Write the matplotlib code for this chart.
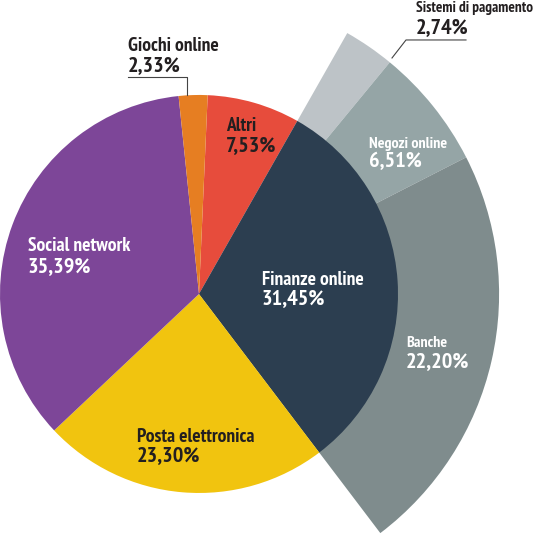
import matplotlib
matplotlib.use("Agg")
import matplotlib.pyplot as plt
from matplotlib import font_manager

# main pie, clockwise from the top
labels = ["Altri", "Finanze online", "Posta elettronica", "Social network", "Giochi online"]
values = [7.53, 31.45, 23.30, 35.39, 2.33]
colors = ["#e74c3c", "#2c3e50", "#f1c40f", "#7d4698", "#e67e22"]

# breakdown of "Finanze online"
sub_labels = ["Sistemi di pagamento", "Negozi online", "Banche"]
sub_values = [2.74, 6.51, 22.20]
sub_colors = ["#bdc3c7", "#95a5a6", "#7f8c8d"]

names = {f.name for f in font_manager.fontManager.ttflist}
font = "DejaVu Sans"
for cand in ["PT Sans Narrow", "Open Sans Condensed", "Roboto Condensed"]:
    if cand in names:
        font = cand
        break

def fmt(v):
    return ("%.2f%%" % v).replace(".", ",")

fig = plt.figure(figsize=(5.38, 5.38), dpi=100)
ax = fig.add_axes([0, 0, 1, 1])

start = 87.5
total = sum(values)
# outer ring starts where "Finanze online" starts
fin_start = start - 360 * values[0] / total
ax.pie(sub_values + [total - sum(sub_values)], radius=1.508, startangle=fin_start,
       counterclock=False, colors=sub_colors + ["none"],
       wedgeprops=dict(linewidth=0))
ax.pie(values, radius=1.0, startangle=start, counterclock=False, colors=colors,
       wedgeprops=dict(linewidth=0))

ax.set_xlim(-1.0, 1.7035)
ax.set_ylim(-1.226, 1.477)
ax.set_aspect("equal")
ax.axis("off")

def px(x, y):
    return (x - 199) / 199, (294 - y) / 199

dark = "#231f20"

def label(x, y1, y2, name, val, color, size):
    ax.text(*px(x, y1), name, color=color, fontsize=size, fontweight="bold",
            family=font, stretch="condensed", va="baseline", ha="left")
    ax.text(*px(x, y2), fmt(val), color=color, fontsize=16, fontweight="bold",
            family=font, stretch="condensed", va="baseline", ha="left")

label(226, 131, 151, labels[0], values[0], dark, 14)
label(262, 285, 304, labels[1], values[1], "white", 14)
label(137, 442, 461, labels[2], values[2], dark, 14)
label(28, 251, 272, labels[3], values[3], "white", 14)
label(128, 51, 71, labels[4], values[4], dark, 14)
label(416, 12, 33, sub_labels[0], sub_values[0], dark, 11)
label(369, 148, 167, sub_labels[1], sub_values[1], "white", 11.5)
label(406, 347, 367, sub_labels[2], sub_values[2], "white", 11.5)

# leader lines
ax.plot(*zip(px(128, 77), px(187, 77), px(187, 95)), color="#444444", lw=0.8)
ax.plot(*zip(px(466, 40), px(406, 40), px(392, 58)), color="#444444", lw=0.8)

fig.savefig("out.png", dpi=100)
